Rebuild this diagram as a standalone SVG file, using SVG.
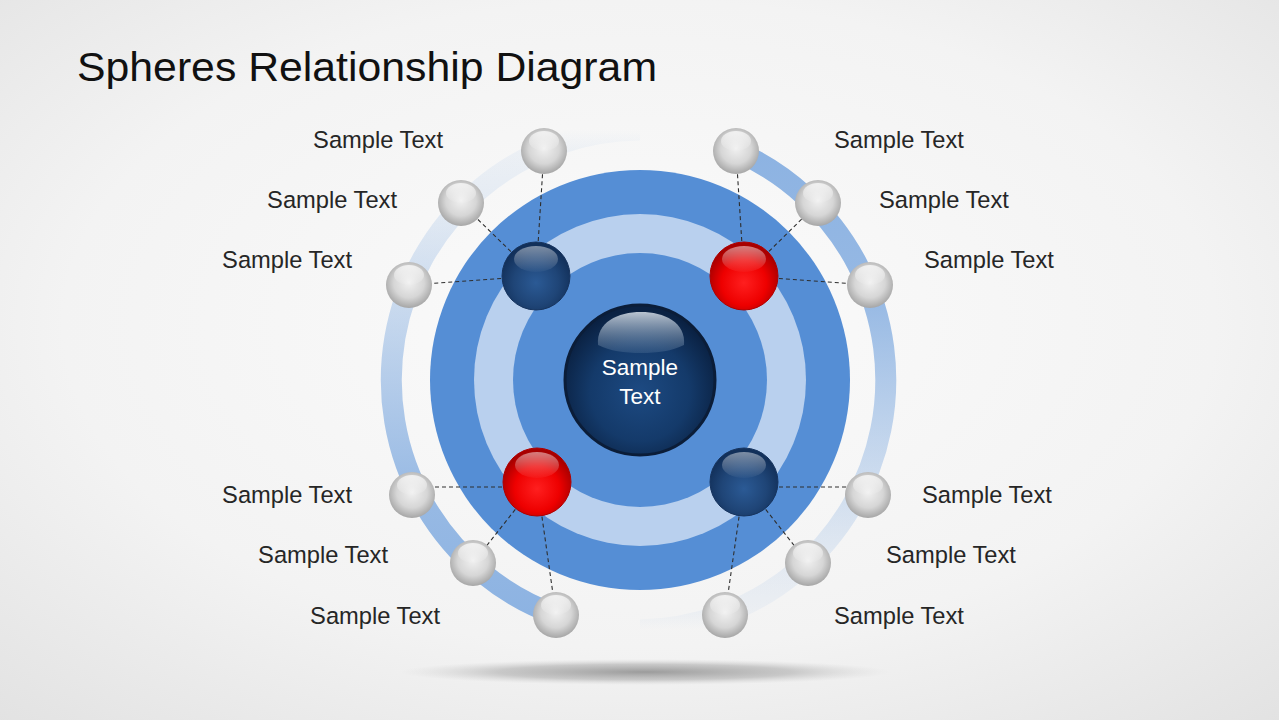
<svg xmlns="http://www.w3.org/2000/svg" xmlns:xlink="http://www.w3.org/1999/xlink" width="1279" height="720" viewBox="0 0 1279 720">
  <defs>
    <style>
      .lbl { font-family: "Liberation Sans", Arial, sans-serif; font-size: 23.7px; fill: #262626; }
      .lblL { text-anchor: end; }
      .title { font-family: "Liberation Sans", Arial, sans-serif; font-size: 41px; fill: #111111; }
      .ctr { font-family: "Liberation Sans", Arial, sans-serif; font-size: 22.5px; fill: #ffffff; text-anchor: middle; }
      .dash { stroke: #2e2e2e; stroke-width: 1.1; stroke-dasharray: 4 3; fill: none; }
    </style>
    <radialGradient id="bg" cx="50%" cy="45%" r="75%">
      <stop offset="0" stop-color="#fbfbfb"/>
      <stop offset="0.6" stop-color="#f3f3f3"/>
      <stop offset="1" stop-color="#e2e2e2"/>
    </radialGradient>
    <linearGradient id="ringL" gradientUnits="userSpaceOnUse" x1="0" y1="130" x2="0" y2="615">
      <stop offset="0" stop-color="#8db3e2" stop-opacity="0"/>
      <stop offset="0.045" stop-color="#8db3e2" stop-opacity="0.1"/>
      <stop offset="0.15" stop-color="#8db3e2" stop-opacity="0.18"/>
      <stop offset="0.45" stop-color="#8db3e2" stop-opacity="0.55"/>
      <stop offset="0.75" stop-color="#8db3e2" stop-opacity="0.9"/>
      <stop offset="1" stop-color="#8db3e2" stop-opacity="1"/>
    </linearGradient>
    <linearGradient id="ringR" gradientUnits="userSpaceOnUse" x1="0" y1="151" x2="0" y2="630">
      <stop offset="0" stop-color="#8db3e2" stop-opacity="1"/>
      <stop offset="0.3" stop-color="#8db3e2" stop-opacity="0.92"/>
      <stop offset="0.6" stop-color="#8db3e2" stop-opacity="0.5"/>
      <stop offset="0.85" stop-color="#8db3e2" stop-opacity="0.18"/>
      <stop offset="0.965" stop-color="#8db3e2" stop-opacity="0.08"/>
      <stop offset="1" stop-color="#8db3e2" stop-opacity="0"/>
    </linearGradient>
    <radialGradient id="gGray" cx="50%" cy="45%" r="55%">
      <stop offset="0" stop-color="#f0f0f0"/>
      <stop offset="0.6" stop-color="#d6d6d6"/>
      <stop offset="1" stop-color="#a6a6a6"/>
    </radialGradient>
    <radialGradient id="gNavy" cx="50%" cy="60%" r="55%">
      <stop offset="0" stop-color="#2b5a95"/>
      <stop offset="0.6" stop-color="#1f4577"/>
      <stop offset="1" stop-color="#12305a"/>
    </radialGradient>
    <radialGradient id="gRed" cx="50%" cy="60%" r="55%">
      <stop offset="0" stop-color="#ff1f1f"/>
      <stop offset="0.6" stop-color="#ee0000"/>
      <stop offset="1" stop-color="#a80000"/>
    </radialGradient>
    <radialGradient id="gCenter" cx="50%" cy="58%" r="55%">
      <stop offset="0" stop-color="#1d4a82"/>
      <stop offset="0.6" stop-color="#143a6a"/>
      <stop offset="1" stop-color="#0a2142"/>
    </radialGradient>
    <linearGradient id="hl" x1="0" y1="0" x2="0" y2="1">
      <stop offset="0" stop-color="#ffffff" stop-opacity="0.9"/>
      <stop offset="1" stop-color="#ffffff" stop-opacity="0.05"/>
    </linearGradient>
    <linearGradient id="hlC" x1="0" y1="0" x2="0" y2="1">
      <stop offset="0" stop-color="#cdd6e0" stop-opacity="0.9"/>
      <stop offset="1" stop-color="#7f9ab9" stop-opacity="0.2"/>
    </linearGradient>
    <radialGradient id="shadow" cx="50%" cy="50%" r="50%">
      <stop offset="0" stop-color="#8c8c8c" stop-opacity="0.85"/>
      <stop offset="0.6" stop-color="#a0a0a0" stop-opacity="0.5"/>
      <stop offset="1" stop-color="#c8c8c8" stop-opacity="0"/>
    </radialGradient>
    <g id="gs">
      <circle r="23" fill="url(#gGray)"/>
      <ellipse cx="0" cy="-10" rx="15" ry="10" fill="url(#hl)" opacity="0.8"/>
    </g>
    <g id="ns">
      <circle r="34" fill="url(#gNavy)" stroke="#17345e" stroke-width="1"/>
      <ellipse cx="0" cy="-17" rx="22" ry="13" fill="url(#hl)" opacity="0.5"/>
    </g>
    <g id="rs">
      <circle r="34" fill="url(#gRed)" stroke="#b00000" stroke-width="1"/>
      <ellipse cx="0" cy="-17" rx="22" ry="13" fill="url(#hl)" opacity="0.55"/>
    </g>
  </defs>

  <rect width="1279" height="720" fill="url(#bg)"/>

  <g id="title">
    <text class="title" x="77" y="81" textLength="580" lengthAdjust="spacingAndGlyphs">Spheres Relationship Diagram</text>
  </g>

  <g id="floor-shadow">
    <ellipse cx="645" cy="672" rx="245" ry="13" fill="url(#shadow)"/>
  </g>

  <g id="outer-ring">
    <path d="M640 130 A250 250 0 0 0 556 615" fill="none" stroke="url(#ringL)" stroke-width="21"/>
    <path d="M736 151 A250 250 0 0 1 640 630" fill="none" stroke="url(#ringR)" stroke-width="21"/>
  </g>

  <g id="target">
    <circle cx="640" cy="380" r="210" fill="#558ed5"/>
    <circle cx="640" cy="380" r="166" fill="#b9d0ee"/>
    <circle cx="640" cy="380" r="127" fill="#558ed5"/>
  </g>

  <g id="connectors">
    <line class="dash" x1="536" y1="276" x2="544" y2="151"/>
    <line class="dash" x1="536" y1="276" x2="461" y2="203"/>
    <line class="dash" x1="536" y1="276" x2="409" y2="285"/>
    <line class="dash" x1="744" y1="276" x2="736" y2="151"/>
    <line class="dash" x1="744" y1="276" x2="818" y2="203"/>
    <line class="dash" x1="744" y1="276" x2="870" y2="285"/>
    <line class="dash" x1="537" y1="487" x2="412" y2="487"/>
    <line class="dash" x1="537" y1="482" x2="473" y2="563"/>
    <line class="dash" x1="537" y1="482" x2="556" y2="615"/>
    <line class="dash" x1="744" y1="487" x2="868" y2="487"/>
    <line class="dash" x1="744" y1="482" x2="808" y2="563"/>
    <line class="dash" x1="744" y1="482" x2="725" y2="615"/>
  </g>

  <g id="center-node">
    <circle cx="640" cy="380" r="75" fill="url(#gCenter)" stroke="#0b1d38" stroke-width="3"/>
    <path d="M598 345 C596 322 618 312 641 312 C664 312 686 322 684 345 C672 351 658 353 641 353 C624 353 610 351 598 345 Z" fill="url(#hlC)"/>
    <text class="ctr" x="640" y="375">Sample</text>
    <text class="ctr" x="640" y="404">Text</text>
  </g>

  <g id="node-tl"><use href="#ns" x="536" y="276"/></g>
  <g id="node-tr"><use href="#rs" x="744" y="276"/></g>
  <g id="node-bl"><use href="#rs" x="537" y="482"/></g>
  <g id="node-br"><use href="#ns" x="744" y="482"/></g>

  <g id="leaf-tl1"><use href="#gs" x="544" y="151"/><text class="lbl lblL" x="443" y="148">Sample Text</text></g>
  <g id="leaf-tl2"><use href="#gs" x="461" y="203"/><text class="lbl lblL" x="397" y="208">Sample Text</text></g>
  <g id="leaf-tl3"><use href="#gs" x="409" y="285"/><text class="lbl lblL" x="352" y="268">Sample Text</text></g>
  <g id="leaf-tr1"><use href="#gs" x="736" y="151"/><text class="lbl" x="834" y="148">Sample Text</text></g>
  <g id="leaf-tr2"><use href="#gs" x="818" y="203"/><text class="lbl" x="879" y="208">Sample Text</text></g>
  <g id="leaf-tr3"><use href="#gs" x="870" y="285"/><text class="lbl" x="924" y="268">Sample Text</text></g>
  <g id="leaf-bl1"><use href="#gs" x="412" y="495"/><text class="lbl lblL" x="352" y="503">Sample Text</text></g>
  <g id="leaf-bl2"><use href="#gs" x="473" y="563"/><text class="lbl lblL" x="388" y="563">Sample Text</text></g>
  <g id="leaf-bl3"><use href="#gs" x="556" y="615"/><text class="lbl lblL" x="440" y="624">Sample Text</text></g>
  <g id="leaf-br1"><use href="#gs" x="868" y="495"/><text class="lbl" x="922" y="503">Sample Text</text></g>
  <g id="leaf-br2"><use href="#gs" x="808" y="563"/><text class="lbl" x="886" y="563">Sample Text</text></g>
  <g id="leaf-br3"><use href="#gs" x="725" y="615"/><text class="lbl" x="834" y="624">Sample Text</text></g>
</svg>
